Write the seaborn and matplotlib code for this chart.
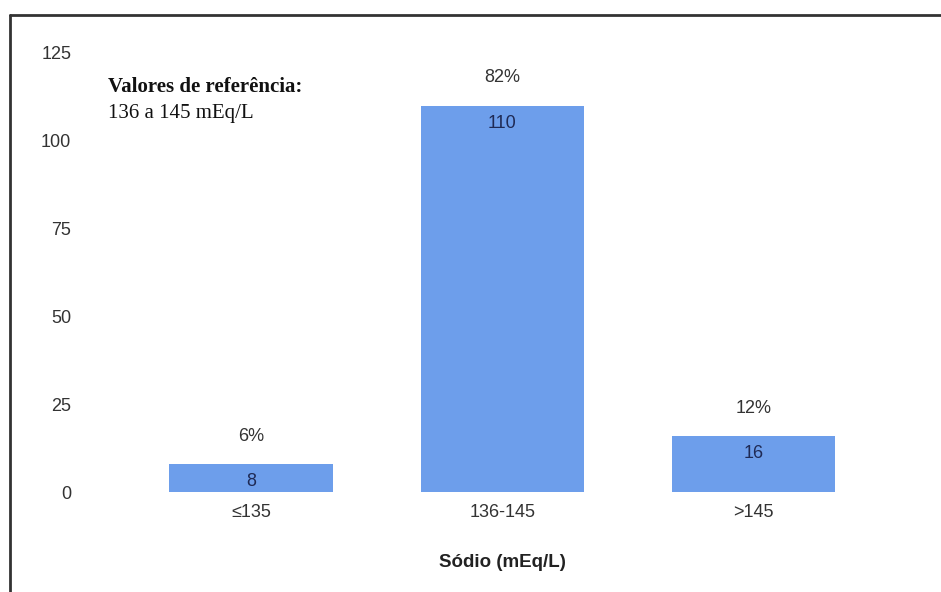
import matplotlib
matplotlib.use("Agg")
import matplotlib.pyplot as plt
from matplotlib.lines import Line2D
import seaborn as sns
import pandas as pd

# Sodium ranges, patient counts and share of total
categories = ["≤135", "136-145", ">145"]
counts = [8, 110, 16]
percents = ["6%", "82%", "12%"]
y_ticks = [0, 25, 50, 75, 100, 125]

df = pd.DataFrame({"faixa": categories, "n": counts})

sns.set_theme(style="white")
plt.rcParams["font.family"] = ["Liberation Sans", "DejaVu Sans"]

fig = plt.figure(figsize=(9.41, 5.92), dpi=100)
ax = fig.add_axes([0.1334, 0.1689, 0.8007, 0.7416])

sns.barplot(data=df, x="faixa", y="n", color="#6d9eeb", saturation=1,
            width=0.65, ax=ax, edgecolor="none")

ax.set_ylim(0, 125)
ax.set_xlim(-0.5, 2.5)
ax.set_yticks(y_ticks)
ax.set_yticklabels([str(t) for t in y_ticks])
sns.despine(ax=ax, left=True, bottom=True)
ax.tick_params(axis="both", length=0, labelsize=13, labelcolor="#333333")
ax.tick_params(axis="y", pad=39)
ax.tick_params(axis="x", pad=8.5)
ax.grid(False)

ax.set_ylabel("")
ax.set_xlabel("Sódio (mEq/L)", fontsize=13.5, fontweight="bold",
              color="#222222", labelpad=24)

for i, (v, p) in enumerate(zip(counts, percents)):
    ax.annotate(str(v), (i, v), xytext=(0, -12.5), textcoords="offset points",
                ha="center", va="center", fontsize=13, color="#1f2a55")
    ax.annotate(p, (i, v), xytext=(0, 20), textcoords="offset points",
                ha="center", va="center", fontsize=13, color="#333333")

# Reference range note
fig.text(108 / 941, 1 - 92 / 592, "Valores de referência:",
         family=["Liberation Serif", "DejaVu Serif"], fontweight="bold",
         fontsize=15, color="#111111", ha="left", va="baseline")
fig.text(108 / 941, 1 - 118 / 592, "136 a 145 mEq/L",
         family=["Liberation Serif", "DejaVu Serif"],
         fontsize=15, color="#111111", ha="left", va="baseline")

# Frame along the top and left edges
fig.add_artist(Line2D([10 / 941, 10 / 941], [0, 1 - 15 / 592],
                      transform=fig.transFigure, color="#333333", lw=2))
fig.add_artist(Line2D([10 / 941, 1], [1 - 15 / 592, 1 - 15 / 592],
                      transform=fig.transFigure, color="#333333", lw=2))

fig.savefig("out.png", dpi=100, facecolor="white")
